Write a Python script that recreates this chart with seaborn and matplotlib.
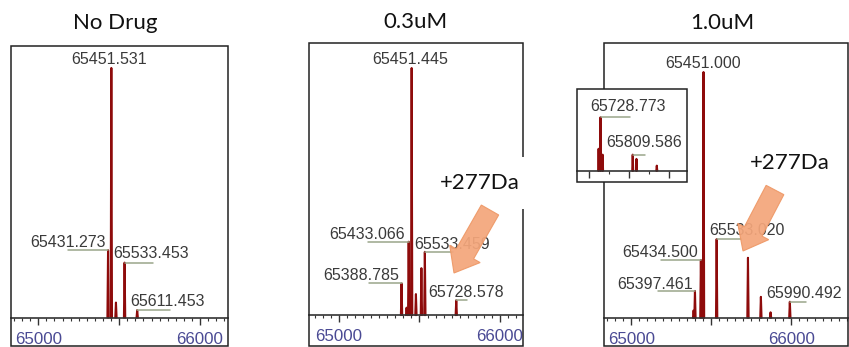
import matplotlib
matplotlib.use("Agg")
import matplotlib.pyplot as plt
import seaborn as sns
import pandas as pd
from matplotlib.patches import Rectangle, FancyArrow
from matplotlib.ticker import MultipleLocator, FuncFormatter

# Deconvoluted intact-mass spectra: mass (Da) and relative intensity (%)
titles = ["No Drug", "0.3uM", "1.0uM"]

nodrug_mass = [65431.273, 65451.531, 65480.0, 65533.453, 65611.453]
nodrug_int = [27.0, 100.0, 6.0, 22.0, 3.0]

low_mass = [65388.785, 65420.0, 65433.066, 65451.445, 65478.0, 65512.0, 65533.459, 65728.578]
low_int = [12.8, 3.0, 29.7, 100.0, 8.5, 19.0, 25.6, 6.0]

high_mass = [65389.0, 65397.461, 65434.500, 65451.000, 65533.020,
             65728.773, 65809.586, 65870.0, 65990.492]
high_int = [3.0, 10.9, 23.5, 100.0, 32.0, 24.4, 8.5, 2.2, 6.5]

# Expanded view of the adduct region at 1.0uM
zoom_mass = [65724.0, 65728.773, 65734.0, 65809.586, 65819.0, 65870.0]
zoom_int = [41.0, 100.0, 30.0, 30.0, 22.0, 9.4]

adduct_label = "+277Da"

# Annotated peaks: mass, alignment, x shift (px), height above apex (px), leader (px)
nodrug_labels = [(65451.531, "center", -2, 10, 0), (65431.273, "right", -2, 9, -40),
                 (65533.453, "left", -11, 10, 28), (65611.453, "left", -7, 10, 33)]
low_labels = [(65451.445, "center", -1, 10, 0), (65388.785, "right", -2, 9.5, -33),
              (65433.066, "right", -4, 8.5, -41), (65533.459, "left", -11, 9, 28),
              (65728.578, "left", -28, 9, 11)]
high_labels = [(65451.000, "center", 0, 10, 0), (65397.461, "right", -2, 8, -37),
               (65434.500, "right", -3, 8.5, -40), (65533.020, "left", -7, 10, 24),
               (65990.492, "left", -24, 9, 16)]
zoom_labels = [(65728.773, "left", -10, 12, 29), (65809.586, "left", -26, 13.4, 12)]

PEAK = "#8e0b0b"
LEADER = "#9aa58a"
LABEL = "#3a3a3a"
TICKLAB = "#4a4a94"
FRAME = "#222222"

sns.set_theme(style="white")
plt.rcParams["font.family"] = ["Liberation Sans", "DejaVu Sans"]

W, H = 849, 347
fig = plt.figure(figsize=(W / 100, H / 100), dpi=100)


def box(left, top, right, bottom):
    return [left / W, 1 - bottom / H, (right - left) / W, (bottom - top) / H]


def draw_peaks(ax, masses, intens, half_width):
    rows = []
    for i, (m, h) in enumerate(zip(masses, intens)):
        rows += [(i, m - half_width, 0.0), (i, m, h), (i, m + half_width, 0.0)]
    df = pd.DataFrame(rows, columns=["peak", "mass", "intensity"])
    sns.lineplot(data=df, x="mass", y="intensity", units="peak", estimator=None,
                 sort=False, color=PEAK, lw=1.5, ax=ax, legend=False)
    ax.set(xlabel="", ylabel="")


def style_axis(ax, xlim, ylim, major, minor, show_labels=True):
    ax.set_xlim(xlim)
    ax.set_ylim(ylim)
    for s in ["top", "left", "right"]:
        ax.spines[s].set_visible(False)
    ax.spines["bottom"].set_position(("data", 0))
    ax.spines["bottom"].set_color("#333333")
    ax.spines["bottom"].set_linewidth(1.2)
    ax.yaxis.set_visible(False)
    ax.xaxis.set_major_locator(MultipleLocator(major))
    ax.xaxis.set_minor_locator(MultipleLocator(minor))
    if show_labels:
        ax.xaxis.set_major_formatter(
            FuncFormatter(lambda v, p: f"{v:.0f}" if round(v) % 1000 == 0 else ""))
    else:
        ax.xaxis.set_major_formatter(FuncFormatter(lambda v, p: ""))
    ax.tick_params(axis="x", which="major", bottom=True, length=5, width=1.0,
                   direction="out", color="#333333", labelsize=12.2,
                   labelcolor=TICKLAB, pad=5.2)
    ax.tick_params(axis="x", which="minor", bottom=True, length=2.2, width=0.8,
                   direction="out", color="#333333")
    ax.add_patch(Rectangle((0, 0), 1, 1, transform=ax.transAxes, fill=False,
                           ec=FRAME, lw=1.1, clip_on=False, zorder=3))


def annotate(ax, masses, intens, labels):
    heights = dict(zip(masses, intens))
    for m, ha, dx, dy, lead in labels:
        h = heights[m]
        px, py = ax.transData.transform((m, h))
        if lead:
            x_end = ax.transData.inverted().transform((px + lead, py))[0]
            ax.plot([m, x_end], [h, h], color=LEADER, lw=1.1, zorder=2)
        ax.annotate(f"{m:.3f}", xy=(m, h), xytext=(dx * 0.72, (dy - 5.7) * 0.72),
                    textcoords="offset points", ha=ha, va="baseline",
                    fontsize=11.5, color=LABEL, zorder=4)


panels = [
    (box(11, 46, 228, 345.5), (64831, 66173), (-11.2, 108.8), nodrug_mass, nodrug_int, nodrug_labels),
    (box(309, 43.3, 523, 345.5), (64814, 66143), (-12.3, 110.0), low_mass, low_int, low_labels),
    (box(604, 43.3, 848, 345.5), (64829, 66354), (-11.3, 111.7), high_mass, high_int, high_labels),
]

axes = []
for rect, xlim, ylim, masses, intens, labels in panels:
    ax = fig.add_axes(rect)
    draw_peaks(ax, masses, intens, 4)
    style_axis(ax, xlim, ylim, 500, 50)
    annotate(ax, masses, intens, labels)
    axes.append(ax)

# Inset with the adduct region
axz = fig.add_axes(box(577, 89, 687, 182))
axz.set_facecolor("white")
draw_peaks(axz, zoom_mass, zoom_int, 1.2)
style_axis(axz, (65669.8, 65945.8), (-21.2, 153.0), 100, 50, show_labels=False)
annotate(axz, zoom_mass, zoom_int, zoom_labels)

# Panel titles
for title, (cx, cy) in zip(titles, [(115.5, 23), (415.5, 22), (722, 23)]):
    fig.text(cx / W, 1 - cy / H, title, ha="center", va="center",
             family=["Lato", "DejaVu Sans"], fontsize=16, color="#111111")

# Adduct call-outs
fig.text(480 / W, 1 - 183 / H, adduct_label, ha="center", va="center",
         family=["Lato", "DejaVu Sans"], fontsize=16, color="#111111", zorder=5,
         bbox=dict(boxstyle="square,pad=0.7", fc="white", ec="none"))
fig.text(789.7 / W, 1 - 162.7 / H, adduct_label, ha="center", va="center",
         family=["Lato", "DejaVu Sans"], fontsize=16, color="#111111", zorder=5)

for (tx, ty), (hx, hy) in [((490, 210), (454, 273)), ((775, 190), (743, 251))]:
    arrow = FancyArrow(tx / 100, (H - ty) / 100, (hx - tx) / 100, (ty - hy) / 100,
                       width=0.20, head_width=0.35, head_length=0.22,
                       length_includes_head=True, fc="#f4a67b", ec="#ee9866",
                       lw=0.8, alpha=0.93, transform=fig.dpi_scale_trans, zorder=6)
    fig.add_artist(arrow)

fig.savefig("out.png", dpi=100, facecolor="white")
